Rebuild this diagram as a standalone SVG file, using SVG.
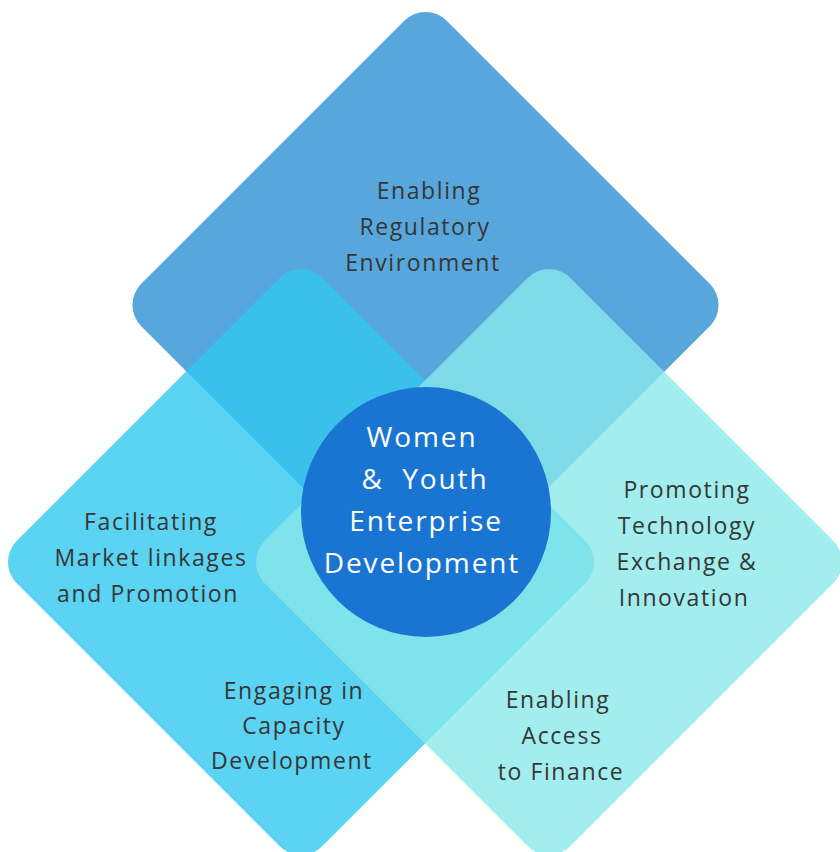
<svg xmlns="http://www.w3.org/2000/svg" width="840" height="852" viewBox="0 0 840 852">
<style>
.lbl{font-family:"Open Sans","Liberation Sans",sans-serif;font-size:23px;fill:#363636;text-anchor:middle;letter-spacing:1.6px}
.ctr{font-family:"Open Sans","Liberation Sans",sans-serif;font-size:28px;fill:#ffffff;text-anchor:middle;letter-spacing:1.9px}
</style>
<defs>
<rect id="dia" x="-216" y="-216" width="432" height="432" rx="30" ry="30"/>
</defs>
<rect width="840" height="852" fill="#ffffff"/>
<g id="node-regulatory">
<use href="#dia" transform="translate(425.5,305) rotate(45)" fill="#57A7DD"/>
</g>
<g id="node-market">
<use href="#dia" transform="translate(301,562) rotate(45)" fill="#32C8EF" fill-opacity="0.8"/>
</g>
<g id="node-finance">
<use href="#dia" transform="translate(549,562) rotate(45)" fill="#88E8E8" fill-opacity="0.78"/>
</g>
<g id="labels">
<text class="lbl" x="429" y="199">Enabling</text>
<text class="lbl" x="425" y="235">Regulatory</text>
<text class="lbl" x="423" y="271">Environment</text>
<text class="lbl" x="151" y="530">Facilitating</text>
<text class="lbl" x="151" y="566">Market linkages</text>
<text class="lbl" x="148" y="602">and Promotion</text>
<text class="lbl" x="687" y="498">Promoting</text>
<text class="lbl" x="687" y="534">Technology</text>
<text class="lbl" x="687" y="570">Exchange &amp;</text>
<text class="lbl" x="684" y="606">Innovation</text>
<text class="lbl" x="294" y="699">Engaging in</text>
<text class="lbl" x="294" y="734">Capacity</text>
<text class="lbl" x="292" y="769">Development</text>
<text class="lbl" x="558" y="708">Enabling</text>
<text class="lbl" x="562" y="744">Access</text>
<text class="lbl" x="561" y="780">to Finance</text>
</g>
<g id="node-center">
<circle cx="426" cy="512" r="125" fill="#1A75D2"/>
<text class="ctr" x="422" y="447">Women</text>
<text class="ctr" x="425" y="489" xml:space="preserve">&amp;  Youth</text>
<text class="ctr" x="426" y="531">Enterprise</text>
<text class="ctr" x="422" y="573">Development</text>
</g>
</svg>
